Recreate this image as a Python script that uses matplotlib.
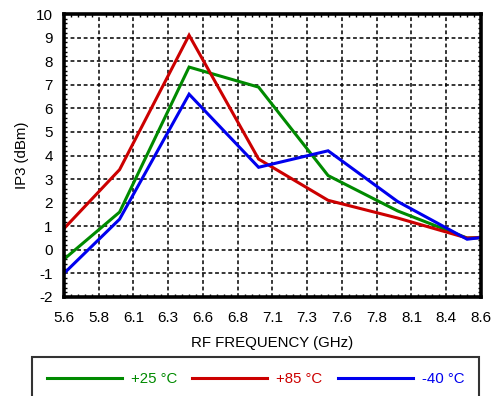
import matplotlib
matplotlib.use("Agg")
import matplotlib.pyplot as plt
from matplotlib.ticker import AutoMinorLocator, MultipleLocator

plt.rcParams["font.family"] = ["Liberation Sans", "DejaVu Sans"]
plt.rcParams["axes.unicode_minus"] = False

FREQ = [5.6, 6.0, 6.5, 7.0, 7.5, 8.0, 8.5, 8.6]
IP3_25C = [-0.4, 1.6, 7.75, 6.9, 3.15, 1.65, 0.5, 0.52]
IP3_85C = [0.9, 3.4, 9.1, 3.85, 2.1, 1.35, 0.5, 0.52]
IP3_M40C = [-1.0, 1.3, 6.6, 3.5, 4.2, 2.05, 0.45, 0.52]

X_TICKS = [5.6, 5.85, 6.1, 6.35, 6.6, 6.85, 7.1, 7.35, 7.6, 7.85, 8.1, 8.35, 8.6]
X_TICK_LABELS = ["5.6", "5.8", "6.1", "6.3", "6.6", "6.8", "7.1", "7.3",
                 "7.6", "7.8", "8.1", "8.4", "8.6"]

SERIES = [
    ("+25 °C", IP3_25C, "#008a00"),
    ("+85 °C", IP3_85C, "#cc0000"),
    ("-40 °C", IP3_M40C, "#0000ee"),
]

fig = plt.figure(figsize=(4.91, 3.96), dpi=100)
ax = fig.add_axes([0.1303, 0.25, 0.8493, 0.7146])

for label, values, color in SERIES:
    ax.plot(FREQ, values, color=color, linewidth=2.2, label=label,
            solid_joinstyle="miter")

ax.set_xlim(5.6, 8.6)
ax.set_ylim(-2, 10)
ax.set_xticks(X_TICKS)
ax.set_xticklabels(X_TICK_LABELS)
ax.yaxis.set_major_locator(MultipleLocator(1))
ax.xaxis.set_minor_locator(AutoMinorLocator(5))
ax.yaxis.set_minor_locator(AutoMinorLocator(5))

ax.grid(True, which="major", color="black", linestyle=(0, (2.5, 1.8)), linewidth=1.1)
ax.tick_params(which="both", direction="in", top=True, right=True, colors="black",
               labelsize=11)
ax.tick_params(axis="x", which="major", length=0, pad=10)
ax.tick_params(axis="y", which="major", length=0, pad=8)
ax.tick_params(which="minor", length=2.5, width=1.0)
for spine in ax.spines.values():
    spine.set_linewidth(2.6)

ax.set_xlabel("RF FREQUENCY (GHz)", fontsize=10.8, labelpad=8)
ax.set_ylabel("IP3 (dBm)", fontsize=10.8, labelpad=5)

handles, labels = ax.get_legend_handles_labels()
leg = fig.legend(handles, labels, loc="upper left",
                 bbox_to_anchor=(32 / 491, -0.2, 447 / 491, 1 - 357 / 396 + 0.2),
                 mode="expand", borderaxespad=0, ncol=3, frameon=True,
                 fancybox=False, edgecolor="black", fontsize=10.8,
                 handlelength=5.0, handletextpad=0.6, borderpad=1.0,
                 labelcolor="linecolor")
leg.get_frame().set_linewidth(1.5)

fig.savefig("out.png", dpi=100)
